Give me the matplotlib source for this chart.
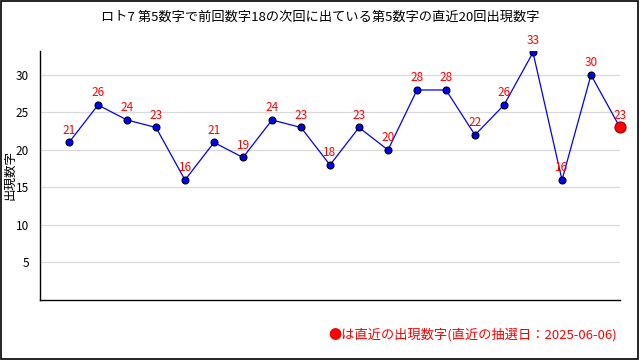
import matplotlib
matplotlib.use("Agg")
import matplotlib.pyplot as plt
from matplotlib.patches import Rectangle

plt.rcParams['font.family'] = ['Noto Sans CJK JP', 'DejaVu Sans']

title = "ロト7 第5数字で前回数字18の次回に出ている第5数字の直近20回出現数字"
ylabel = "出現数字"
note = "●は直近の出現数字(直近の抽選日：2025-06-06)"
values = [21, 26, 24, 23, 16, 21, 19, 24, 23, 18, 23, 20, 28, 28, 22, 26, 33, 16, 30, 23]
yticks = [5, 10, 15, 20, 25, 30]

x = list(range(len(values)))

fig = plt.figure(figsize=(6.4, 3.6), dpi=100)
ax = fig.add_axes([0.0625, 0.1667, 0.90625, 0.6917])

ax.plot(x, values, color='blue', lw=0.9, zorder=3)
ax.plot(x[:-1], values[:-1], 'o', ms=5, mfc='blue', mec='black', mew=0.8, zorder=4)
ax.plot(x[-1], values[-1], 'o', ms=8, mfc='red', mec='#aa0000', mew=0.8, zorder=5, clip_on=False)

# red value labels above each point
for xi, v in zip(x, values):
    ax.annotate(str(v), (xi, v), xytext=(0, 4), textcoords='offset points',
                ha='center', va='bottom', color='red', fontsize=8.5, zorder=6,
                annotation_clip=False)

ax.set_xlim(-1, len(values) - 1)
ax.set_ylim(0, 33.2)
ax.set_xticks([])
ax.set_yticks(yticks)
ax.tick_params(axis='y', length=0, labelsize=8.5, pad=8)
ax.grid(axis='y', color='#d9d9d9', lw=0.9)
ax.set_axisbelow(True)
for s in ['top', 'right']:
    ax.spines[s].set_visible(False)
ax.spines['left'].set_linewidth(1)
ax.spines['bottom'].set_linewidth(1)

fig.text(10 / 640, 0.514, ylabel, rotation=90, ha='center', va='center', fontsize=9)
fig.text(0.5, 0.952, title, ha='center', va='center', fontsize=9.5)
fig.text(0.965, 0.07, note, ha='right', va='center', fontsize=9.5, color='red')

fig.patches.append(Rectangle((0.001, 0.003), 0.996, 0.994, transform=fig.transFigure,
                             fill=False, edgecolor='black', lw=1.2))

fig.savefig('out.png', dpi=100)
